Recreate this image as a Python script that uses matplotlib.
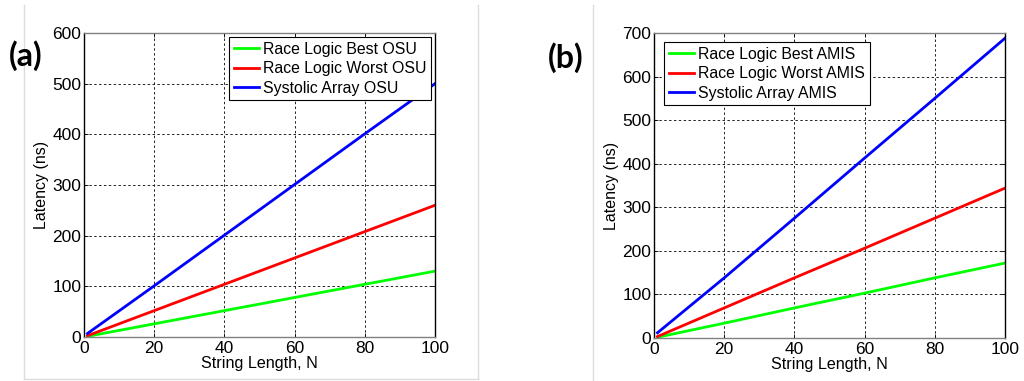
import matplotlib
matplotlib.use("Agg")
import matplotlib.pyplot as plt
from matplotlib.lines import Line2D

plt.rcParams['font.family'] = ['Liberation Sans', 'DejaVu Sans']

# Data
N = [1, 20, 40, 60, 80, 100]
osu_best = [1.3, 26, 52, 78, 104, 130]
osu_worst = [2.6, 52, 104, 156, 208, 260]
osu_systolic = [7, 101, 201, 301, 401, 500]
amis_best = [1.7, 34, 69, 103, 138, 172]
amis_worst = [3.4, 69, 138, 206, 275, 344]
amis_systolic = [12, 138, 275, 413, 550, 688]

labels_a = ["Race Logic Best OSU", "Race Logic Worst OSU", "Systolic Array OSU"]
labels_b = ["Race Logic Best AMIS", "Race Logic Worst AMIS", "Systolic Array AMIS"]
colors = ["#00ff00", "#ff0000", "#0000ff"]
xticks = [0, 20, 40, 60, 80, 100]
yticks_a = [0, 100, 200, 300, 400, 500, 600]
yticks_b = [0, 100, 200, 300, 400, 500, 600, 700]

W, H = 1024, 381
fig = plt.figure(figsize=(W / 100, H / 100), dpi=100)


def fx(px):
    return px / W


def fy(py):
    return 1 - py / H


def make_axes(left, right, top, bottom):
    return fig.add_axes([fx(left), fy(bottom), fx(right - left), (bottom - top) / H])


def style(ax, series, labels, yticks, ylim, legend_bbox):
    for ys, lab, c in zip(series, labels, colors):
        ax.plot(N, ys, color=c, lw=2.0, label=lab)
    ax.set_xlim(0, 100)
    ax.set_ylim(*ylim)
    ax.set_xticks(xticks)
    ax.set_yticks(yticks)
    ax.tick_params(direction='in', top=True, right=True, length=3, width=0.6,
                   labelsize=12.5)
    ax.tick_params(axis='y', pad=2)
    ax.tick_params(axis='x', pad=3)
    ax.grid(True, color='#222222', linestyle=(0, (2.5, 2.5)), lw=0.7)
    for s in ['left', 'right']:
        ax.spines[s].set_color('black')
        ax.spines[s].set_linewidth(1.0)
    for s in ['top', 'bottom']:
        ax.spines[s].set_color('#808080')
        ax.spines[s].set_linewidth(1.0)
    ax.set_xlabel("String Length, N", fontsize=11.6, labelpad=0)
    ax.set_ylabel("Latency (ns)", fontsize=11.5, labelpad=2)
    leg = ax.legend(loc='upper left', bbox_to_anchor=legend_bbox, fontsize=11.4,
                    frameon=True, fancybox=False, edgecolor='black', framealpha=1,
                    handlelength=1.6, handletextpad=0.25, borderpad=0.3,
                    labelspacing=0.28, borderaxespad=0)
    leg.get_frame().set_linewidth(0.8)


ax1 = make_axes(84, 435, 33, 337)
style(ax1, [osu_best, osu_worst, osu_systolic], labels_a, yticks_a, (0, 600),
      ((229 - 84) / (435 - 84), 1 - (37 - 33) / (337 - 33)))

ax2 = make_axes(654, 1005, 33, 338)
style(ax2, [amis_best, amis_worst, amis_systolic], labels_b, yticks_b, (0, 700),
      ((664 - 654) / (1005 - 654), 1 - (42 - 33) / (338 - 33)))

fig.text(fx(9), fy(56), "(a)", fontsize=23, fontweight='bold', va='center', ha='left',
         family=['Lato', 'DejaVu Sans'])
fig.text(fx(548), fy(58), "(b)", fontsize=23, fontweight='bold', va='center', ha='left',
         family=['Lato', 'DejaVu Sans'])

# light panel frames
fc = '#dcdcdc'
for (x0, y0, x1, y1) in [(24, 5, 24, 379), (478, 5, 478, 379), (24, 379, 478, 379),
                         (593, 5, 593, 381)]:
    fig.add_artist(Line2D([fx(x0), fx(x1)], [fy(y0), fy(y1)], color=fc, lw=1.0))

fig.savefig("out.png", dpi=100, facecolor='white')
